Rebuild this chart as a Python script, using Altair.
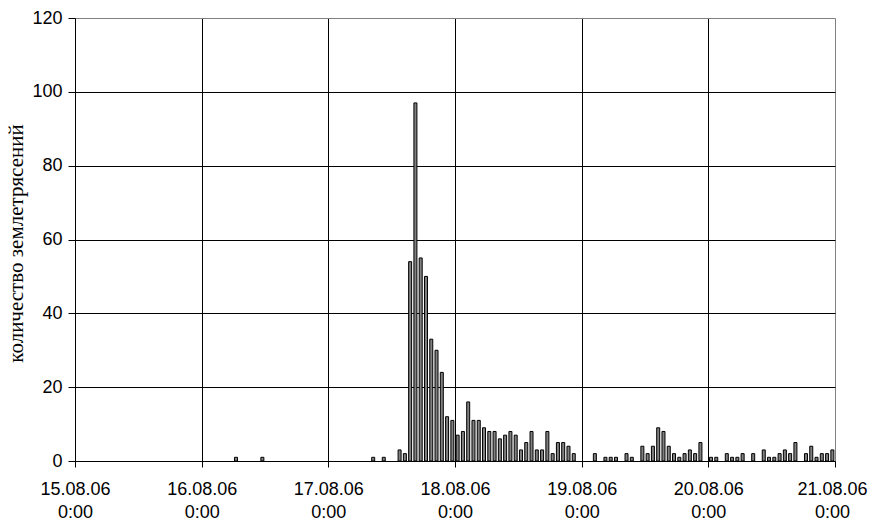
import altair as alt
import pandas as pd

# hour offset from 15.08.06 0:00, and earthquake counts per hour
hours = [30, 35, 56, 58, 61, 62, 63, 64, 65, 66, 67, 68, 69, 70, 71, 72, 73, 74,
         75, 76, 77, 78, 79, 80, 81, 82, 83, 84, 85, 86, 87, 88, 89, 90, 91, 92,
         93, 94, 98, 100, 101, 102, 104, 105, 107, 108, 109, 110, 111, 112, 113,
         114, 115, 116, 117, 118, 120, 121, 123, 124, 125, 126, 128, 130, 131,
         132, 133, 134, 135, 136, 138, 139, 140, 141, 142, 143]
counts = [1, 1, 1, 1, 3, 2, 54, 97, 55, 50, 33, 30, 24, 12, 11, 7, 8, 16,
          11, 11, 9, 8, 8, 6, 7, 8, 7, 3, 5, 8, 3, 3, 8, 2, 5, 5,
          4, 2, 2, 1, 1, 1, 2, 1, 4, 2, 4, 9, 8, 4, 2,
          1, 2, 3, 2, 5, 1, 1, 2, 1, 1, 2, 2, 3, 1,
          1, 2, 3, 2, 5, 2, 4, 1, 2, 2, 3]
day_labels = ["15.08.06", "16.08.06", "17.08.06", "18.08.06", "19.08.06",
              "20.08.06", "21.08.06"]
y_ticks = [0, 20, 40, 60, 80, 100, 120]

df = pd.DataFrame({"t": [h + 0.5 for h in hours], "n": counts})

label_arr = "[" + ",".join("'%s'" % d for d in day_labels) + "]"

chart = alt.Chart(df).mark_bar(
    size=3, color="#808080", stroke="black", strokeWidth=1
).encode(
    x=alt.X("t:Q",
            scale=alt.Scale(domain=[0, 144], nice=False, zero=False, padding=0),
            axis=alt.Axis(
                values=[0, 24, 48, 72, 96, 120, 144],
                labelExpr="[" + label_arr + "[round(datum.value/24)], '0:00']",
                title=None,
                grid=True,
                gridColor=alt.condition("datum.value == 144", alt.value("#808080"), alt.value("black")),
                gridOpacity=1,
                domainColor="black",
                tickColor="black",
                tickSize=6,
                labelPadding=13,
                labelOffset=alt.condition("datum.value == 144", alt.value(-3), alt.value(0)),
                labelFont="Liberation Sans",
                labelFontSize=18,
                labelColor="black",
                labelLineHeight=23,
                labelFlush=False,
                labelOverlap=False,
            )),
    y=alt.Y("n:Q",
            scale=alt.Scale(domain=[0, 120], nice=False),
            axis=alt.Axis(
                values=y_ticks,
                title="количество землетрясений",
                titleFont="Liberation Serif",
                titleFontSize=21,
                titleFontWeight="normal",
                titleColor="black",
                titleX=-59,
                titleY=225,
                titleAlign="center",
                titleBaseline="middle",
                titleAngle=270,
                grid=True,
                gridColor=alt.condition("datum.value == 120", alt.value("#808080"), alt.value("black")),
                gridOpacity=1,
                domainColor="black",
                tickColor="black",
                tickSize=7,
                labelPadding=6,
                labelFont="Liberation Sans",
                labelFontSize=18,
                labelColor="black",
            )),
).properties(
    width=760,
    height=443,
    autosize=alt.AutoSizeParams(type="none"),
    padding={"left": 67, "top": 10, "right": 34, "bottom": 59},
).configure_view(
    stroke="#808080", strokeWidth=1
).configure(background="white")

chart.save("out.html", embed_options={"renderer": "svg", "actions": False})
